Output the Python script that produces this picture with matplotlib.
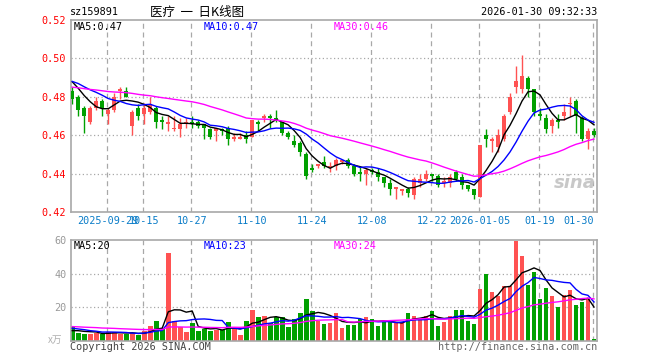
import matplotlib
matplotlib.use('Agg')
import matplotlib.pyplot as plt
import pandas as pd

# daily candles 2025-09-19 .. 2026-01-30 (88 trading days)
open_ = [0.483, 0.480, 0.474, 0.467, 0.474, 0.478, 0.471, 0.473, 0.483, 0.483,
         0.465, 0.474, 0.471, 0.472, 0.474, 0.468, 0.466, 0.463, 0.463, 0.466,
         0.467, 0.467, 0.466, 0.463, 0.462, 0.463, 0.464, 0.458, 0.458, 0.460,
         0.459, 0.467, 0.469, 0.470, 0.469, 0.467, 0.461, 0.457, 0.456, 0.450,
         0.443, 0.444, 0.446, 0.443, 0.444, 0.446, 0.447, 0.444, 0.441, 0.440,
         0.442, 0.441, 0.438, 0.435, 0.432, 0.431, 0.432, 0.429, 0.435, 0.437,
         0.440, 0.439, 0.435, 0.435, 0.441, 0.438, 0.434, 0.432, 0.428, 0.460,
         0.457, 0.454, 0.458, 0.472, 0.485, 0.484, 0.490, 0.484, 0.471, 0.469,
         0.465, 0.468, 0.470, 0.476, 0.478, 0.469, 0.458, 0.462]
high = [0.485, 0.481, 0.475, 0.475, 0.480, 0.479, 0.474, 0.482, 0.485, 0.485,
        0.473, 0.476, 0.477, 0.480, 0.475, 0.470, 0.470, 0.470, 0.469, 0.469,
        0.470, 0.468, 0.466, 0.464, 0.464, 0.464, 0.465, 0.461, 0.461, 0.462,
        0.468, 0.468, 0.471, 0.471, 0.473, 0.467, 0.462, 0.460, 0.457, 0.451,
        0.445, 0.445, 0.449, 0.446, 0.448, 0.447, 0.448, 0.445, 0.444, 0.443,
        0.443, 0.443, 0.438, 0.437, 0.433, 0.432, 0.433, 0.438, 0.440, 0.442,
        0.440, 0.440, 0.438, 0.440, 0.442, 0.440, 0.434, 0.432, 0.455, 0.463,
        0.459, 0.463, 0.471, 0.482, 0.496, 0.502, 0.491, 0.484, 0.474, 0.471,
        0.469, 0.471, 0.476, 0.480, 0.479, 0.470, 0.464, 0.464]
low = [0.476, 0.470, 0.461, 0.466, 0.473, 0.470, 0.466, 0.472, 0.479, 0.480,
       0.460, 0.468, 0.466, 0.471, 0.464, 0.463, 0.462, 0.462, 0.459, 0.464,
       0.464, 0.464, 0.458, 0.458, 0.457, 0.460, 0.455, 0.457, 0.458, 0.456,
       0.459, 0.462, 0.467, 0.464, 0.467, 0.460, 0.458, 0.454, 0.449, 0.437,
       0.441, 0.443, 0.443, 0.441, 0.442, 0.445, 0.443, 0.439, 0.436, 0.434,
       0.440, 0.436, 0.433, 0.429, 0.427, 0.429, 0.428, 0.427, 0.433, 0.436,
       0.436, 0.433, 0.433, 0.433, 0.436, 0.432, 0.431, 0.427, 0.428, 0.454,
       0.451, 0.451, 0.457, 0.471, 0.482, 0.482, 0.480, 0.470, 0.468, 0.461,
       0.461, 0.464, 0.468, 0.470, 0.461, 0.457, 0.453, 0.459]
close = [0.479, 0.473, 0.470, 0.474, 0.478, 0.474, 0.473, 0.480, 0.484, 0.480,
         0.472, 0.470, 0.474, 0.476, 0.467, 0.467, 0.467, 0.464, 0.466, 0.467,
         0.466, 0.465, 0.464, 0.459, 0.464, 0.462, 0.458, 0.459, 0.459, 0.458,
         0.468, 0.466, 0.470, 0.469, 0.468, 0.461, 0.459, 0.455, 0.451, 0.439,
         0.442, 0.445, 0.444, 0.444, 0.447, 0.447, 0.444, 0.440, 0.440, 0.442,
         0.441, 0.438, 0.435, 0.432, 0.433, 0.432, 0.430, 0.437, 0.437, 0.440,
         0.439, 0.434, 0.436, 0.438, 0.437, 0.434, 0.432, 0.429, 0.455, 0.458,
         0.458, 0.460, 0.470, 0.480, 0.488, 0.491, 0.484, 0.472, 0.470, 0.463,
         0.468, 0.467, 0.472, 0.477, 0.470, 0.458, 0.462, 0.460]
# volume in 万手
volume = [8.4, 4.8, 4.0, 4.0, 4.8, 3.8, 5.4, 5.4, 4.2, 4.2,
          4.4, 3.4, 5.8, 8.8, 12.0, 7.4, 52.0, 11.8, 8.4, 5.4,
          10.8, 6.0, 7.0, 6.0, 6.4, 6.4, 11.4, 7.4, 3.4, 12.0,
          18.0, 14.4, 14.8, 10.4, 14.0, 14.0, 8.0, 13.0, 16.8, 25.0,
          17.4, 12.0, 10.0, 10.8, 16.8, 7.8, 9.4, 9.4, 12.8, 14.0,
          12.8, 8.8, 11.0, 11.0, 11.0, 11.0, 16.8, 14.8, 13.4, 14.8,
          17.8, 8.8, 11.4, 14.8, 18.4, 18.4, 12.0, 10.0, 31.0, 40.0,
          29.2, 26.8, 32.8, 32.8, 59.5, 50.4, 33.4, 40.8, 25.0, 31.5,
          26.5, 20.0, 27.5, 30.0, 21.0, 23.0, 25.0, 1.2]
# 29 sessions before the window, estimated from where the MA lines start
prev_close = [0.482, 0.484, 0.486, 0.487, 0.486, 0.485, 0.487, 0.488, 0.486, 0.484,
              0.485, 0.486, 0.485, 0.484, 0.481, 0.479, 0.478, 0.479, 0.480, 0.478,
              0.484, 0.487, 0.490, 0.491, 0.489, 0.490, 0.489, 0.490, 0.491]
prev_volume = [9, 10, 8, 9, 11, 8, 9, 10, 8, 9, 7, 9, 10, 8, 9, 8, 10, 9, 8, 9,
               9, 8, 10, 8, 9, 5, 6, 5, 5.6]

date_idx = [6, 12, 20, 30, 40, 50, 60, 68, 78, 87]
date_labels = ['2025-09-29', '10-15', '10-27', '11-10', '11-24', '12-08',
               '12-22', '2026-01-05', '01-19', '01-30']

RED = '#ff5252'
GREEN = '#00a000'
GRID = '#a8a8a8'
MONO = 'DejaVu Sans Mono'
FS = 7.3
W, H = 660, 360

n = len(close)
x = list(range(n))
colors = [RED if c >= o else GREEN for o, c in zip(open_, close)]

closes = pd.Series(prev_close + close)
vols = pd.Series(prev_volume + volume)
k = len(prev_close)
ma = {p: closes.rolling(p).mean().iloc[k:].values for p in (5, 10, 30)}
vma = {p: vols.rolling(p).mean().iloc[k:].values for p in (5, 10, 30)}
ma_colors = {5: 'black', 10: '#0000ff', 30: '#ff00ff'}

fig = plt.figure(figsize=(6.6, 3.6), dpi=100)
ax = fig.add_axes([70.5 / W, 1 - 212 / H, 526.5 / W, 192 / H])
axv = fig.add_axes([70.5 / W, 1 - 340.7 / H, 526.5 / W, 100.7 / H])

for a in (ax, axv):
    a.set_xlim(-0.3, n - 0.5)
    for s in a.spines.values():
        s.set_color(GRID)
        s.set_linewidth(1.2)
    for d in date_idx:
        a.axvline(d - 0.25, color=GRID, lw=0.9, ls=(0, (4, 3)), zorder=0)

# price panel
for v in [0.44, 0.46, 0.48, 0.50]:
    ax.axhline(v, color=GRID, lw=0.9, ls=(0, (1, 2)), zorder=0)
ax.vlines(x, low, high, colors=colors, lw=1, zorder=2)
body_bottom = [min(o, c) for o, c in zip(open_, close)]
body_height = [max(abs(c - o), 0.0003) for o, c in zip(open_, close)]
ax.bar(x, body_height, bottom=body_bottom, width=0.68, color=colors, zorder=3)
for p in (5, 10, 30):
    ax.plot(x, ma[p], color=ma_colors[p], lw=1, zorder=4)
ax.set_ylim(0.42, 0.52)
ax.set_yticks([0.42, 0.44, 0.46, 0.48, 0.50, 0.52])
ax.set_yticklabels(['0.42', '0.44', '0.46', '0.48', '0.50', '0.52'],
                   color='#ff0000', family=MONO, fontsize=FS)
ax.set_xticks(date_idx)
ax.set_xticklabels(date_labels, color='#0a7cc8', family=MONO, fontsize=FS)
ax.get_xticklabels()[-1].set_horizontalalignment('right')
ax.tick_params(length=0, pad=3)

# volume panel
for v in [20, 40]:
    axv.axhline(v, color=GRID, lw=0.9, ls=(0, (1, 2)), zorder=0)
axv.bar(x, volume, width=0.78, color=colors, zorder=2)
for p in (5, 10, 30):
    axv.plot(x, vma[p], color=ma_colors[p], lw=1, zorder=4)
axv.set_ylim(0, 60)
axv.set_yticks([20, 40, 60])
axv.set_yticklabels(['20', '40', '60'], color='#999999', family=MONO, fontsize=FS)
axv.set_xticks([])
axv.tick_params(length=0, pad=3)


def put(px, py, s, **kw):
    kw.setdefault('family', MONO)
    kw.setdefault('fontsize', FS)
    fig.text(px / W, 1 - py / H, s, va='center', **kw)


put(70, 12, 'sz159891', color='black')
put(150, 12, '医疗  一  日K线图', family=['Noto Sans CJK SC', 'DejaVu Sans'],
    fontsize=9, color='black')
put(597, 12, '2026-01-30 09:32:33', ha='right', color='black')
put(74, 27, 'MA5:0.47', color='black')
put(204, 27, 'MA10:0.47', color='#0000ff')
put(334, 27, 'MA30:0.46', color='#ff00ff')
put(74, 246, 'MA5:20', color='black')
put(204, 246, 'MA10:23', color='#0000ff')
put(334, 246, 'MA30:24', color='#ff00ff')
put(48, 340, 'x万', family=['Noto Sans CJK SC', 'DejaVu Sans'], fontsize=7,
    color='#b0b0b0')
put(70, 347, 'Copyright 2026 SINA.COM', color='#444444')
put(597, 347, 'http://finance.sina.com.cn', ha='right', color='#666666')
put(596, 183, 'sina', ha='right', color='#c8c8c8', fontsize=13,
    family='DejaVu Sans', style='italic', weight='bold')

fig.savefig('out.png', dpi=100)
